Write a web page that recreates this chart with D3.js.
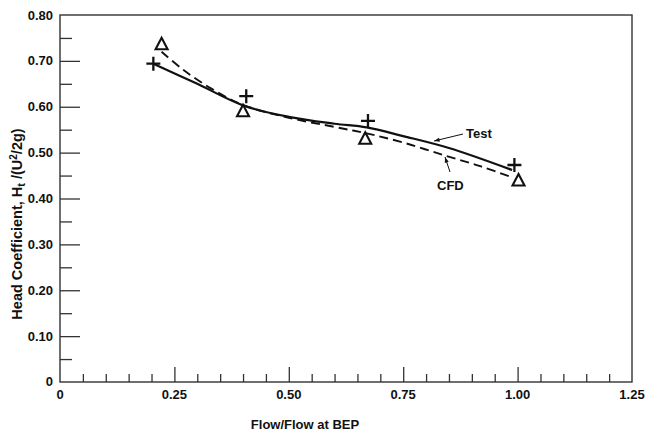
<!DOCTYPE html>
<html><head><meta charset="utf-8">
<script src="https://cdn.jsdelivr.net/npm/d3@7"></script>
<style>
body{margin:0;background:#fff;}
text{font-family:"Liberation Sans",Arial,Helvetica,sans-serif;font-weight:bold;fill:#111;}
</style></head>
<body><svg id="c" width="646" height="432"></svg>
<script>
// ---- data ----
const testX = [0.204, 0.407, 0.673, 0.993];
const testY = [0.694, 0.623, 0.569, 0.473];
const cfdX = [0.222, 0.400, 0.667, 1.002];
const cfdY = [0.735, 0.589, 0.529, 0.438];
const testCurveX = [0.204, 0.30, 0.40, 0.50, 0.60, 0.67, 0.75, 0.85, 0.988];
const testCurveY = [0.694, 0.650, 0.603, 0.578, 0.563, 0.555, 0.536, 0.510, 0.462];
const cfdCurveX = [0.222, 0.27, 0.33, 0.40, 0.50, 0.60, 0.67, 0.75, 0.84, 0.92, 0.985];
const cfdCurveY = [0.720, 0.680, 0.640, 0.604, 0.576, 0.556, 0.542, 0.522, 0.494, 0.470, 0.447];
const xMajor = [0, 0.25, 0.5, 0.75, 1.0, 1.25];
const xMajorLabels = ["0", "0.25", "0.50", "0.75", "1.00", "1.25"];
const yMajor = [0, 0.1, 0.2, 0.3, 0.4, 0.5, 0.6, 0.7, 0.8];
const yMajorLabels = ["0", "0.10", "0.20", "0.30", "0.40", "0.50", "0.60", "0.70", "0.80"];
const xMinor = [0.05,0.1,0.15,0.2,0.3,0.35,0.4,0.45,0.55,0.6,0.65,0.7,0.8,0.85,0.9,0.95,1.05,1.1,1.15,1.2];
const yMinor = [0.05,0.15,0.25,0.35,0.45,0.55,0.65,0.75];
const xTitle = "Flow/Flow at BEP";

const svg = d3.select("#c");
const L = 60, R = 632, T = 15, B = 382;
const x = d3.scaleLinear().domain([0, 1.25]).range([L, R]);
const y = d3.scaleLinear().domain([0, 0.8]).range([B, T]);

// frame
svg.append("rect").attr("x", L).attr("y", T).attr("width", R - L).attr("height", B - T)
  .attr("fill", "none").attr("stroke", "#333").attr("stroke-width", 1.4);

// y axis
const yMaj = svg.append("g").attr("transform", `translate(${L},0)`)
  .call(d3.axisLeft(y).tickValues(yMajor.slice(1, -1)).tickSize(-20).tickFormat(""));
const yMin = svg.append("g").attr("transform", `translate(${L},0)`)
  .call(d3.axisLeft(y).tickValues(yMinor).tickSize(-12).tickFormat(""));
[yMaj, yMin].forEach(g => { g.select(".domain").remove(); g.selectAll("line").attr("stroke", "#333").attr("stroke-width", 1.3); });
svg.append("g").selectAll("text").data(yMajor).join("text")
  .attr("x", L - 7).attr("y", (d, i) => y(d) + (i === 0 ? -1 : 0)).attr("dy", "0.35em")
  .attr("text-anchor", "end").attr("font-size", 13).text((d, i) => yMajorLabels[i]);

// x axis
const xMaj = svg.append("g").attr("transform", `translate(0,${B})`)
  .call(d3.axisBottom(x).tickValues(xMajor.slice(1, -1)).tickSize(-15).tickFormat(""));
const xMin = svg.append("g").attr("transform", `translate(0,${B})`)
  .call(d3.axisBottom(x).tickValues(xMinor).tickSize(-8).tickFormat(""));
[xMaj, xMin].forEach(g => { g.select(".domain").remove(); g.selectAll("line").attr("stroke", "#333").attr("stroke-width", 1.3); });
svg.append("g").selectAll("text").data(xMajor).join("text")
  .attr("x", d => x(d)).attr("y", B + 17)
  .attr("text-anchor", "middle").attr("font-size", 13).text((d, i) => xMajorLabels[i]);

// titles
svg.append("text").attr("x", 305).attr("y", 429).attr("text-anchor", "middle")
  .attr("font-size", 13).text(xTitle);
const yt = svg.append("text").attr("transform", "translate(22,224) rotate(-90)")
  .attr("text-anchor", "middle").attr("font-size", 14.5);
yt.append("tspan").text("Head Coefficient, H");
yt.append("tspan").attr("font-size", 11).attr("dy", 3).text("t");
yt.append("tspan").attr("dy", -3).text(" /(U");
yt.append("tspan").attr("font-size", 10).attr("dy", -5).text("2");
yt.append("tspan").attr("dy", 5).text("/2g)");

// curves
const line = d3.line().x(d => x(d[0])).y(d => y(d[1])).curve(d3.curveCatmullRom.alpha(0.5));
svg.append("path").datum(testCurveX.map((v, i) => [v, testCurveY[i]]))
  .attr("d", line).attr("fill", "none").attr("stroke", "#111").attr("stroke-width", 2.2);
svg.append("path").datum(cfdCurveX.map((v, i) => [v, cfdCurveY[i]]))
  .attr("d", line).attr("fill", "none").attr("stroke", "#111").attr("stroke-width", 1.9)
  .attr("stroke-dasharray", "9,5");

// markers
const pg = svg.append("g");
testX.forEach((v, i) => {
  const cx = x(v), cy = y(testY[i]);
  pg.append("path").attr("d", `M${cx - 7},${cy}H${cx + 7}M${cx},${cy - 7}V${cy + 7}`)
    .attr("stroke", "#111").attr("stroke-width", 2.3).attr("fill", "none");
});
cfdX.forEach((v, i) => {
  const cx = x(v), cy = y(cfdY[i]);
  pg.append("path").attr("d", `M${cx},${cy - 7}L${cx + 6},${cy + 4.5}L${cx - 6},${cy + 4.5}Z`)
    .attr("stroke", "#111").attr("stroke-width", 2.1).attr("fill", "#fff");
});

// annotations
function arrow(x1, y1, x2, y2) {
  svg.append("line").attr("x1", x1).attr("y1", y1).attr("x2", x2).attr("y2", y2)
    .attr("stroke", "#111").attr("stroke-width", 1);
  const a = Math.atan2(y2 - y1, x2 - x1), s = 6, w = 0.35;
  const p1 = [x2 - s * Math.cos(a - w), y2 - s * Math.sin(a - w)];
  const p2 = [x2 - s * Math.cos(a + w), y2 - s * Math.sin(a + w)];
  svg.append("path").attr("d", `M${x2},${y2}L${p1[0]},${p1[1]}L${p2[0]},${p2[1]}Z`).attr("fill", "#111");
}
svg.append("text").attr("x", 466).attr("y", 138).attr("font-size", 13).text("Test");
arrow(463, 134, 434, 141);
svg.append("text").attr("x", 437).attr("y", 190).attr("font-size", 13).text("CFD");
arrow(450, 172, 445, 157);
</script></body></html>
